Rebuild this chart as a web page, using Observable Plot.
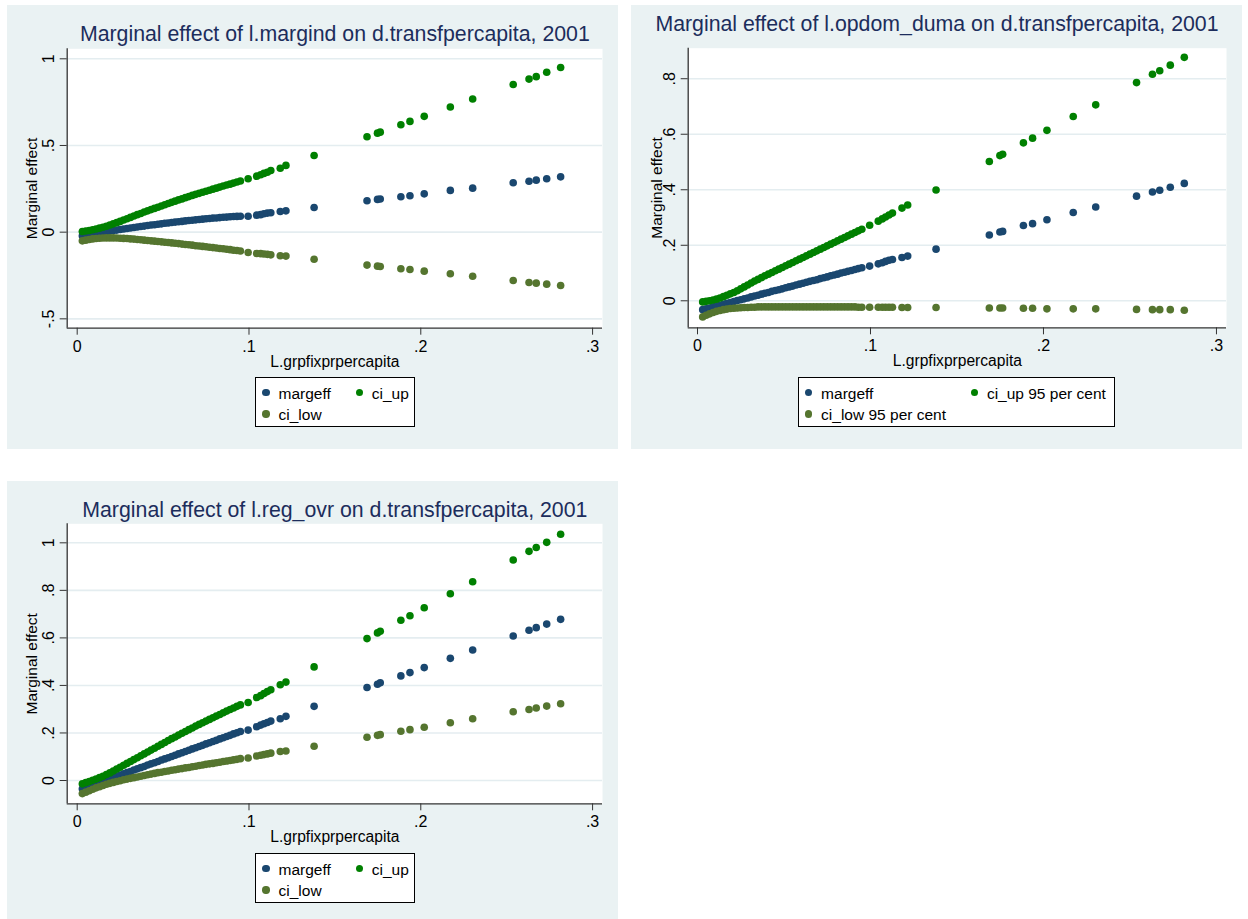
<!DOCTYPE html>
<html><head><meta charset="utf-8">
<script src="https://cdn.jsdelivr.net/npm/d3@7"></script>
<script src="https://cdn.jsdelivr.net/npm/@observablehq/plot@0.6"></script>
<style>
body{margin:0;background:#fff;font-family:"Liberation Sans",Arial,sans-serif;}
#page{position:relative;width:1248px;height:919px;background:#fff;overflow:hidden;}
.panel{position:absolute;background:#eaf2f3;}
.panel svg{position:absolute;left:0;top:0;}
.legend{position:absolute;background:#fff;border:1px solid #000;box-sizing:border-box;}
.legend .mk{position:absolute;width:7.4px;height:7.4px;border-radius:50%;}
.legend .lb{position:absolute;font-size:15.5px;line-height:18px;white-space:nowrap;color:#000;}
</style></head><body><div id="page"></div>
<script>
// x values: L.grpfixprpercapita
const grp = [0.003,0.005,0.007,0.009,0.011,0.013,0.015,0.017,0.019,0.021,0.023,0.025,0.027,0.029,0.031,0.033,0.035,0.037,0.039,0.041,0.043,0.045,0.047,0.049,0.051,0.053,0.055,0.057,0.059,0.061,0.063,0.065,0.067,0.069,0.071,0.073,0.075,0.077,0.079,0.081,0.083,0.085,0.087,0.089,0.091,0.093,0.095,
  0.0995,0.1045,0.1068,0.1087,0.1107,0.1127,0.1182,0.1215,0.1379,0.1687,0.1748,0.1764,0.1884,0.1937,0.2020,0.2172,0.2302,0.2538,0.2630,0.2672,0.2733,0.2814];

// Panel 1: l.margind
const margind_margeff = [-.021,-.017,-.014,-.011,-.007,-.004,.000,.003,.006,.009,.012,.015,.018,.021,.024,.027,.030,.033,.035,.038,.041,.043,.046,.048,.051,.053,.056,.058,.060,.062,.065,.067,.069,.071,.073,.075,.077,.079,.081,.082,.084,.086,.087,.089,.090,.091,.092,
  .092,.098,.101,.106,.110,.112,.119,.123,.1425,.181,.189,.191,.204,.210,.221,.241,.254,.285,.294,.300,.308,.319];
const margind_ciup = [.004,.007,.010,.014,.018,.023,.028,.034,.041,.048,.055,.062,.070,.077,.085,.093,.101,.108,.116,.123,.130,.137,.144,.151,.158,.165,.172,.179,.186,.192,.199,.205,.212,.218,.224,.230,.236,.242,.248,.254,.260,.266,.272,.277,.283,.289,.295,
  .308,.323,.331,.339,.346,.356,.369,.385,.4425,.550,.571,.577,.620,.639,.668,.722,.768,.852,.883,.897,.922,.950];
const margind_cilow = [-.050,-.046,-.042,-.039,-.037,-.035,-.034,-.033,-.033,-.033,-.034,-.035,-.036,-.037,-.039,-.040,-.042,-.044,-.046,-.048,-.050,-.052,-.054,-.056,-.058,-.060,-.062,-.064,-.066,-.069,-.071,-.073,-.075,-.078,-.080,-.082,-.084,-.087,-.089,-.091,-.094,-.096,-.099,-.101,-.104,-.106,-.109,
  -.117,-.123,-.124,-.126,-.128,-.131,-.136,-.138,-.156,-.190,-.196,-.198,-.211,-.215,-.225,-.240,-.254,-.279,-.290,-.294,-.300,-.308];

// Panel 2: l.opdom_duma
const opdom_margeff = [-.032,-.029,-.026,-.022,-.019,-.016,-.013,-.009,-.006,-.003,.001,.004,.007,.010,.014,.017,.020,.024,.027,.030,.034,.037,.040,.043,.047,.050,.053,.057,.060,.063,.067,.070,.073,.076,.080,.083,.086,.090,.093,.096,.100,.103,.106,.109,.113,.116,.119,
  .125,.133,.137,.142,.146,.149,.156,.161,.186,.237,.248,.250,.271,.278,.292,.318,.338,.377,.392,.398,.409,.423];
const opdom_ciup = [-.004,-.002,.000,.003,.006,.010,.015,.020,.025,.030,.036,.043,.050,.057,.064,.071,.077,.084,.090,.096,.102,.108,.114,.120,.126,.132,.138,.144,.150,.156,.162,.168,.174,.180,.186,.192,.198,.204,.210,.216,.222,.228,.234,.240,.246,.252,.258,
  .272,.287,.295,.302,.309,.316,.334,.345,.399,.502,.523,.528,.569,.586,.614,.664,.706,.786,.816,.829,.849,.877];
const opdom_cilow = [-.058,-.052,-.047,-.042,-.038,-.035,-.032,-.030,-.028,-.027,-.026,-.025,-.024,-.024,-.023,-.023,-.022,-.022,-.022,-.022,-.022,-.022,-.022,-.022,-.022,-.022,-.022,-.022,-.022,-.022,-.022,-.022,-.022,-.022,-.022,-.022,-.022,-.022,-.022,-.022,-.022,-.022,-.022,-.022,-.022,-.023,-.023,
  -.023,-.023,-.023,-.023,-.023,-.023,-.024,-.024,-.024,-.026,-.026,-.026,-.027,-.027,-.029,-.029,-.029,-.031,-.032,-.032,-.032,-.034];

// Panel 3: l.reg_ovr
const regovr_margeff = [-.035,-.030,-.025,-.019,-.014,-.009,-.004,.002,.007,.012,.017,.023,.028,.033,.038,.044,.049,.054,.059,.065,.070,.075,.080,.086,.091,.096,.101,.106,.112,.117,.122,.127,.133,.138,.143,.148,.154,.159,.164,.169,.175,.180,.185,.190,.196,.201,.206,
  .212,.226,.233,.239,.244,.250,.260,.270,.312,.391,.405,.411,.440,.454,.475,.514,.549,.608,.632,.643,.658,.678];
const regovr_ciup = [-.014,-.009,-.004,.001,.006,.012,.018,.025,.032,.040,.048,.056,.064,.072,.080,.088,.096,.104,.112,.120,.128,.136,.144,.152,.160,.168,.176,.183,.191,.199,.206,.214,.221,.229,.236,.243,.250,.257,.264,.271,.278,.285,.292,.299,.305,.312,.318,
  .328,.349,.357,.366,.374,.382,.403,.414,.478,.597,.621,.628,.674,.693,.727,.786,.836,.928,.964,.980,1.002,1.036];
const regovr_cilow = [-.055,-.049,-.043,-.037,-.031,-.026,-.021,-.016,-.012,-.008,-.004,-.001,.003,.006,.009,.012,.015,.018,.021,.024,.027,.030,.033,.035,.038,.040,.043,.045,.048,.050,.053,.055,.058,.060,.063,.065,.068,.070,.072,.075,.077,.080,.082,.084,.087,.089,.092,
  .095,.103,.106,.109,.112,.115,.122,.124,.144,.182,.190,.193,.207,.214,.224,.243,.260,.289,.299,.305,.313,.323];

// tick values and labels
const xTicks = [0, 0.1, 0.2, 0.3];
const xTickLabels = ["0", ".1", ".2", ".3"];
const yTicks1 = [-0.5, 0, 0.5, 1];
const yTickLabels1 = ["-.5", "0", ".5", "1"];
const yTicks2 = [0, 0.2, 0.4, 0.6, 0.8];
const yTickLabels2 = ["0", ".2", ".4", ".6", ".8"];
const yTicks3 = [0, 0.2, 0.4, 0.6, 0.8, 1];
const yTickLabels3 = ["0", ".2", ".4", ".6", ".8", "1"];

const titles = [
  "Marginal effect of l.margind on d.transfpercapita, 2001",
  "Marginal effect of l.opdom_duma on d.transfpercapita, 2001",
  "Marginal effect of l.reg_ovr on d.transfpercapita, 2001"
];
const seriesKeys = ["margeff", "ci_up", "ci_low"];
const legend1 = ["margeff", "ci_up", "ci_low"];
const legend2 = ["margeff", "ci_up 95 per cent", "ci_low 95 per cent"];
const xTitle = "L.grpfixprpercapita";
const yTitle = "Marginal effect";

const colors = {margeff: "#1a476f", ci_up: "#008000", ci_low: "#55752f"};
const FONT = '"Liberation Sans", Arial, Helvetica, sans-serif';

function lookup(ticks, labels) {
  return d => labels[ticks.findIndex(t => Math.abs(t - d) < 1e-9)];
}

function makePanel(cfg) {
  const div = document.createElement("div");
  div.className = "panel";
  Object.assign(div.style, {left: cfg.left + "px", top: cfg.top + "px", width: cfg.width + "px", height: cfg.height + "px"});
  const rows = [];
  cfg.series.forEach((vals, si) => vals.forEach((v, i) => rows.push({x: grp[i], y: v, s: seriesKeys[si]})));
  const chart = Plot.plot({
    width: cfg.width, height: cfg.height,
    marginLeft: cfg.ml, marginRight: cfg.mr, marginTop: cfg.mt, marginBottom: cfg.mb,
    style: {background: "transparent", fontFamily: FONT, fontSize: "15.5px", color: "#000", overflow: "visible"},
    x: {domain: cfg.xDomain},
    y: {domain: cfg.yDomain},
    marks: [
      Plot.frame({fill: "#fff", stroke: null}),
      Plot.gridY(cfg.yTicks, {stroke: "#e4edf0", strokeOpacity: 1, strokeWidth: 1.6}),
      ...seriesKeys.map(k => Plot.dot(rows.filter(d => d.s === k), {x: "x", y: "y", r: 3.8, fill: colors[k], stroke: null})),
      Plot.ruleX([cfg.xDomain[0]], {stroke: "#333", strokeWidth: 1.3}),
      Plot.ruleY([cfg.yDomain[0]], {stroke: "#333", strokeWidth: 1.3}),
      Plot.axisX(xTicks, {tickSize: 7, tickPadding: 5, tickFormat: lookup(xTicks, xTickLabels), label: null, stroke: "#333", fill: "#000", fontSize: 16}),
      Plot.axisY(cfg.yTicks, {tickSize: 7, tickPadding: 6, tickRotate: -90, tickFormat: lookup(cfg.yTicks, cfg.yTickLabels), label: null, stroke: "#333", fill: "#000", fontSize: 16}),
      Plot.text([cfg.title], {frameAnchor: "top", dx: cfg.titleDx, dy: cfg.titleDy, lineAnchor: "bottom", textAnchor: "middle", fontSize: 21.3, fill: "#1c2d5c"}),
      Plot.text([xTitle], {frameAnchor: "bottom", dy: 38.5, lineAnchor: "bottom", textAnchor: "middle", fontSize: 15.6, fill: "#000"}),
      Plot.text([yTitle], {frameAnchor: "left", dx: cfg.ytDx, rotate: -90, lineAnchor: "bottom", textAnchor: "middle", fontSize: 15.5, fill: "#000"})
    ]
  });
  div.appendChild(chart);
  // legend
  const lg = document.createElement("div");
  lg.className = "legend";
  Object.assign(lg.style, {left: cfg.lg.left + "px", top: cfg.lg.top + "px", width: cfg.lg.width + "px", height: "50px"});
  const pos = [[cfg.lg.c1, 0], [cfg.lg.c2, 0], [cfg.lg.c1, 1]];
  cfg.legend.forEach((name, i) => {
    const [cx, row] = pos[i];
    const mk = document.createElement("div");
    mk.className = "mk";
    Object.assign(mk.style, {left: (cx - 3.7) + "px", top: (14.5 + row * 21.5 - 3.7) + "px", background: colors[seriesKeys[i]]});
    lg.appendChild(mk);
    const lb = document.createElement("div");
    lb.className = "lb";
    lb.textContent = name;
    Object.assign(lb.style, {left: (cx + 12.5) + "px", top: (21 + row * 21 - 14.4) + "px"});
    lg.appendChild(lb);
  });
  div.appendChild(lg);
  document.getElementById("page").appendChild(div);
}

makePanel({
  left: 7, top: 5, width: 611, height: 444,
  ml: 59.7, mr: 16, mt: 43.3, mb: 121.3,
  xDomain: [-0.00582, 0.30577], yDomain: [-0.554, 1.0577],
  yTicks: yTicks1, yTickLabels: yTickLabels1,
  series: [margind_margeff, margind_ciup, margind_cilow],
  title: titles[0], titleDx: 0, titleDy: -7.6, ytDx: -30.2,
  legend: legend1, lg: {left: 248, top: 372, width: 160, c1: 10, c2: 103.3}
});
makePanel({
  left: 631, top: 5, width: 611, height: 444,
  ml: 56.7, mr: 16, mt: 42.7, mb: 121.7,
  xDomain: [-0.00538, 0.3058], yDomain: [-0.0973, 0.910],
  yTicks: yTicks2, yTickLabels: yTickLabels2,
  series: [opdom_margeff, opdom_ciup, opdom_cilow],
  title: titles[1], titleDx: -20.4, titleDy: -17, ytDx: -26.2,
  legend: legend2, lg: {left: 166.6, top: 372, width: 317, c1: 10, c2: 175.8}
});
makePanel({
  left: 7, top: 481, width: 611, height: 438,
  ml: 59.7, mr: 16, mt: 42.3, mb: 115.7,
  xDomain: [-0.00582, 0.30577], yDomain: [-0.098, 1.080],
  yTicks: yTicks3, yTickLabels: yTickLabels3,
  series: [regovr_margeff, regovr_ciup, regovr_cilow],
  title: titles[2], titleDx: 0, titleDy: -7.3, ytDx: -30.2,
  legend: legend1, lg: {left: 248, top: 372, width: 160, c1: 10, c2: 103.3}
});
</script></body></html>
